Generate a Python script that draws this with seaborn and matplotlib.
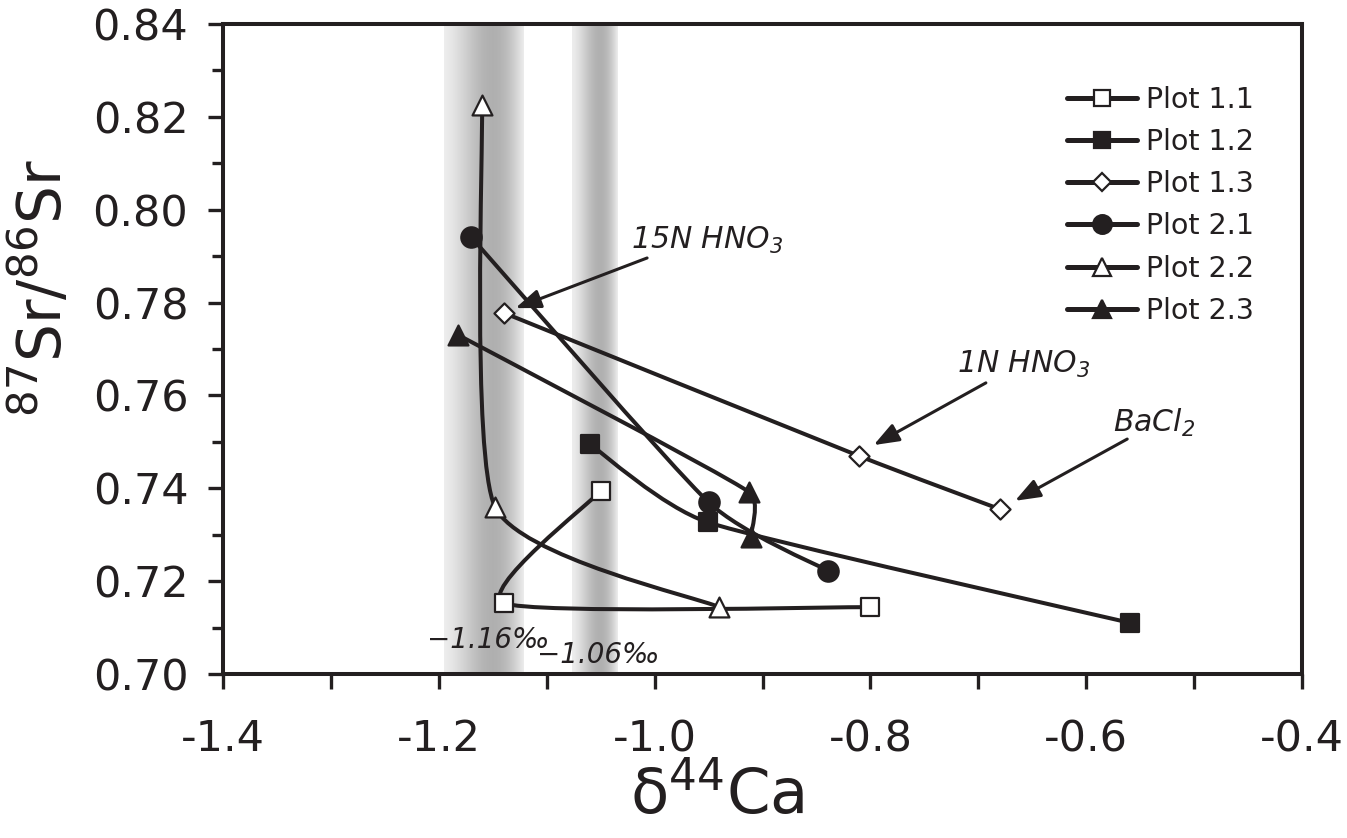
import numpy as np
import pandas as pd
import matplotlib
matplotlib.use("Agg")
import matplotlib.pyplot as plt
import seaborn as sns
from matplotlib.path import Path
from matplotlib.patches import PathPatch
from matplotlib.lines import Line2D
from matplotlib.ticker import MultipleLocator, FormatStrFormatter

# values (delta44Ca, 87Sr/86Sr), in drawing order
series_names = ["Plot 1.1", "Plot 1.2", "Plot 1.3", "Plot 2.1", "Plot 2.2", "Plot 2.3"]
p11_x = [-1.05, -1.14, -0.80]
p11_y = [0.7394, 0.7153, 0.7144]
p12_x = [-1.06, -0.951, -0.559]
p12_y = [0.7495, 0.7327, 0.7110]
p13_x = [-1.14, -0.811, -0.680]
p13_y = [0.7778, 0.7470, 0.7355]
p21_x = [-1.17, -0.950, -0.839]
p21_y = [0.7941, 0.7370, 0.7222]
p22_x = [-1.16, -1.148, -0.940]
p22_y = [0.8226, 0.7360, 0.7144]
p23_x = [-1.182, -0.9125, -0.911]
p23_y = [0.7730, 0.7392, 0.7295]

# grey bands of the two mean values
band_centers = [-1.158, -1.056]
band_halfwidths = [0.037, 0.021]
band_labels = ["\u22121.16\u2030", "\u22121.06\u2030"]
band_label_xy = [(-1.211, 0.7056), (-1.109, 0.7024)]

# leach step annotations: text position, arrow tail, arrow tip
note_texts = ["15N HNO$_3$", "1N HNO$_3$", "BaCl$_2$"]
note_text_xy = [(-1.022, 0.7915), (-0.720, 0.7648), (-0.575, 0.7522)]
note_tail_xy = [(-1.007, 0.7896), (-0.693, 0.7627), (-0.562, 0.7506)]
note_tip_xy = [(-1.129, 0.7788), (-0.797, 0.7493), (-0.666, 0.7373)]

rows = []
for name, xs, ys in zip(series_names,
                        [p11_x, p12_x, p13_x, p21_x, p22_x, p23_x],
                        [p11_y, p12_y, p13_y, p21_y, p22_y, p23_y]):
    for i, (x, y) in enumerate(zip(xs, ys)):
        rows.append({"series": name, "step": i, "d44Ca": x, "Sr": y})
df = pd.DataFrame(rows)

K = "#231f20"
styles = {
    "Plot 1.1": dict(marker="s", face="white", s=160),
    "Plot 1.2": dict(marker="s", face=K, s=160),
    "Plot 1.3": dict(marker="D", face="white", s=105),
    "Plot 2.1": dict(marker="o", face=K, s=215),
    "Plot 2.2": dict(marker="^", face="white", s=205),
    "Plot 2.3": dict(marker="^", face=K, s=205),
}

sns.set_theme(style="ticks")
plt.rcParams["font.family"] = ["DejaVu Sans"]
plt.rcParams["mathtext.fontset"] = "dejavusans"
plt.rcParams["mathtext.default"] = "regular"
plt.rcParams["axes.unicode_minus"] = False

fig = plt.figure(figsize=(13.47, 8.38), dpi=100)
ax = fig.add_axes([0.1656, 0.1957, 0.8010, 0.7757])


def band_image(n=200):
    t = np.linspace(0, 1, n)
    prof = np.sin(np.pi * t ** 1.4)
    v = 1 - (0.07 + 0.24 * prof)
    return np.repeat(v[None, :, None], 3, axis=2)


for c, hw in zip(band_centers, band_halfwidths):
    ax.imshow(band_image(), extent=(c - hw, c + hw, 0.70, 0.84),
              aspect="auto", interpolation="bilinear", zorder=0)

ax.set_xlim(-1.4, -0.4)
ax.set_ylim(0.70, 0.84)


def excel_smooth(xs, ys, tension=0.1):
    # Bezier smoothing in screen space, close to Excel's "smoothed line"
    pts = ax.transData.transform(np.column_stack([xs, ys]))
    n = len(pts)
    verts = [pts[0]]
    codes = [Path.MOVETO]
    for i in range(n - 1):
        p0 = pts[max(i - 1, 0)]
        p1 = pts[i]
        p2 = pts[i + 1]
        p3 = pts[min(i + 2, n - 1)]
        d12 = np.hypot(*(p2 - p1))
        d02 = np.hypot(*(p2 - p0))
        d13 = np.hypot(*(p3 - p1))
        f = tension if d02 * tension < d12 / 3 else d12 / d02 / 3
        g = tension if d13 * tension < d12 / 3 else d12 / d13 / 3
        verts += [p1 + f * (p2 - p0), p2 - g * (p3 - p1), p2]
        codes += [Path.CURVE4] * 3
    verts = ax.transData.inverted().transform(np.array(verts))
    return Path(verts, codes)


handles = []
for i, name in enumerate(series_names):
    sub = df[df["series"] == name].sort_values("step")
    st = styles[name]
    ax.add_patch(PathPatch(excel_smooth(sub["d44Ca"].values, sub["Sr"].values),
                           fill=False, lw=2.9, ec=K, joinstyle="round",
                           capstyle="round", zorder=2 + 2 * i))
    sns.scatterplot(data=sub, x="d44Ca", y="Sr", marker=st["marker"], s=st["s"],
                    color=st["face"], edgecolor=K, linewidth=1.6,
                    zorder=3 + 2 * i, ax=ax, legend=False)
    handles.append(Line2D([], [], color=K, lw=3.6, marker=st["marker"],
                          markersize=np.sqrt(st["s"]) * 0.92, mfc=st["face"],
                          mec=K, mew=1.6, label=name))

for (tx, ty), lab in zip(band_label_xy, band_labels):
    ax.text(tx, ty, lab, fontsize=20, style="italic", color=K, va="baseline",
            ha="left", zorder=20)

for txt, (tx, ty), tail, tip in zip(note_texts, note_text_xy, note_tail_xy, note_tip_xy):
    ax.text(tx, ty, txt, fontsize=21.5, style="italic", color=K, va="baseline",
            ha="left", zorder=20)
    ax.annotate("", xy=tip, xytext=tail,
                arrowprops=dict(arrowstyle="-|>,head_length=0.85,head_width=0.32",
                                mutation_scale=18, lw=2.2, color=K,
                                shrinkA=0, shrinkB=0),
                zorder=20)

leg = ax.legend(handles=handles, loc="upper left", bbox_to_anchor=(0.782, 0.905),
                frameon=False, fontsize=20.5, handlelength=2.45, handletextpad=0.33,
                labelspacing=0.5, borderpad=0, borderaxespad=0)
for t in leg.get_texts():
    t.set_color(K)

ax.xaxis.set_major_locator(MultipleLocator(0.2))
ax.xaxis.set_minor_locator(MultipleLocator(0.1))
ax.yaxis.set_major_locator(MultipleLocator(0.02))
ax.yaxis.set_minor_locator(MultipleLocator(0.01))
ax.xaxis.set_major_formatter(FormatStrFormatter("%.1f"))
ax.yaxis.set_major_formatter(FormatStrFormatter("%.2f"))

ax.tick_params(axis="x", which="both", direction="out", length=11, width=2.4,
               color=K, labelsize=31, labelcolor=K, pad=21)
ax.tick_params(axis="y", which="major", direction="out", length=11, width=2.4,
               color=K, labelsize=31, labelcolor=K, pad=14)
ax.tick_params(axis="y", which="minor", direction="out", length=8, width=2.4, color=K)
for sp in ax.spines.values():
    sp.set_linewidth(2.9)
    sp.set_color(K)
    sp.set_visible(True)

ax.set_xlabel("\u03b4$^{44}$Ca", fontsize=45, color=K)
ax.set_ylabel("$^{87}$Sr/$^{86}$Sr", fontsize=43, color=K)
ax.xaxis.set_label_coords(0.458, -0.14)
ax.yaxis.set_label_coords(-0.137, 0.594)

fig.savefig("out.png", dpi=100)
